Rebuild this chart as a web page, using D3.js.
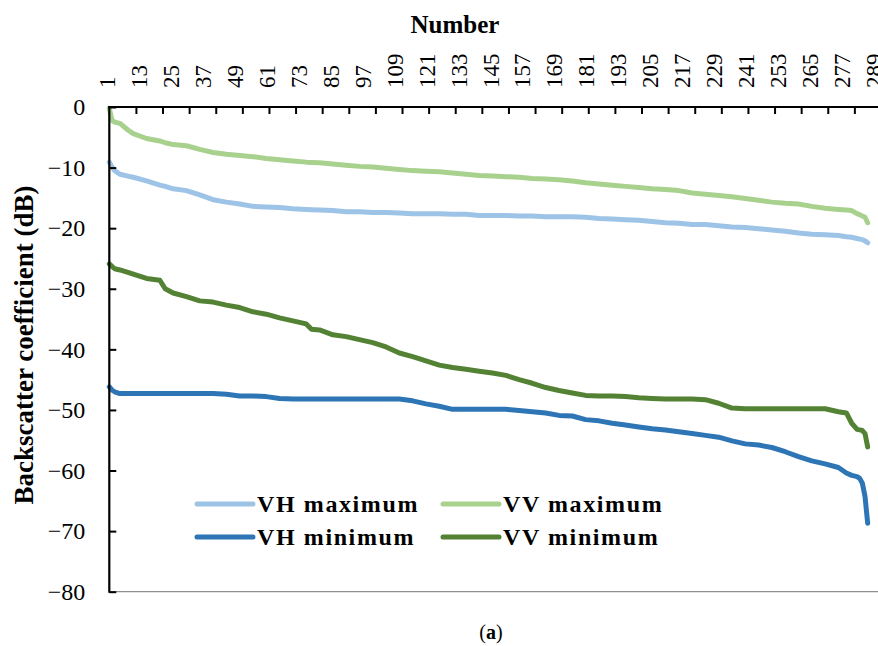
<!DOCTYPE html>
<html>
<head>
<meta charset="utf-8">
<script src="https://cdn.jsdelivr.net/npm/d3@7"></script>
<style>
  body { margin: 0; background: #fff; }
  svg { display: block; font-family: "Liberation Serif", "Times New Roman", serif; }
</style>
</head>
<body>
<div id="chart"></div>
<script>
var numbers = [1, 2, 3, 5, 8, 10, 15, 20, 22, 25, 30, 35, 40, 45, 50, 55, 60, 65, 70, 75, 77,
  80, 85, 90, 95, 100, 105, 110, 115, 120, 125, 130, 135, 140, 145, 150, 155, 160, 165, 170,
  175, 180, 185, 190, 195, 200, 205, 210, 215, 220, 225, 230, 235, 240, 245, 250, 255, 260,
  265, 270, 275, 278, 280, 282, 283, 284, 285, 286];

var vhMax = [-9.1, -9.9, -10.5, -11.1, -11.4, -11.6, -12.2, -12.9, -13.1, -13.5, -13.8, -14.5,
  -15.3, -15.7, -16.0, -16.4, -16.5, -16.6, -16.8, -16.9, -16.95, -17.0, -17.1, -17.3, -17.3,
  -17.4, -17.4, -17.5, -17.6, -17.6, -17.6, -17.7, -17.7, -17.9, -17.9, -17.9, -18.0, -18.0,
  -18.1, -18.1, -18.1, -18.2, -18.4, -18.5, -18.6, -18.7, -18.9, -19.1, -19.2, -19.4, -19.4,
  -19.6, -19.8, -19.9, -20.1, -20.3, -20.5, -20.8, -21.0, -21.1, -21.2, -21.4, -21.5, -21.7,
  -21.8, -21.9, -22.1, -22.4];

var vvMax = [-0.2, -2.2, -2.5, -2.7, -3.8, -4.4, -5.2, -5.6, -5.9, -6.2, -6.4, -7.0, -7.5,
  -7.8, -8.0, -8.2, -8.5, -8.7, -8.9, -9.1, -9.15, -9.2, -9.4, -9.6, -9.8, -9.9, -10.1, -10.3,
  -10.5, -10.6, -10.7, -10.9, -11.1, -11.3, -11.4, -11.5, -11.6, -11.8, -11.9, -12.0, -12.2,
  -12.5, -12.7, -12.9, -13.1, -13.3, -13.5, -13.6, -13.8, -14.2, -14.4, -14.6, -14.8, -15.1,
  -15.4, -15.7, -15.9, -16.0, -16.4, -16.7, -16.9, -17.0, -17.1, -17.6, -17.8, -18.0, -18.2,
  -19.1];

var vhMin = [-46.2, -46.7, -47.0, -47.3, -47.3, -47.3, -47.3, -47.3, -47.3, -47.3, -47.3,
  -47.3, -47.3, -47.4, -47.7, -47.7, -47.8, -48.1, -48.2, -48.2, -48.2, -48.2, -48.2, -48.2,
  -48.2, -48.2, -48.2, -48.2, -48.5, -49.0, -49.4, -49.9, -49.9, -49.9, -49.9, -49.9, -50.1,
  -50.3, -50.5, -50.9, -51.0, -51.6, -51.8, -52.2, -52.5, -52.8, -53.1, -53.3, -53.6, -53.9,
  -54.2, -54.5, -55.1, -55.6, -55.8, -56.2, -56.9, -57.7, -58.4, -58.9, -59.5, -60.4, -60.8,
  -61.0, -61.3, -62.1, -64.3, -68.7];

var vvMin = [-25.9, -26.3, -26.7, -26.9, -27.3, -27.6, -28.3, -28.6, -30.0, -30.7, -31.3,
  -32.0, -32.2, -32.7, -33.1, -33.8, -34.2, -34.8, -35.3, -35.8, -36.7, -36.8, -37.6, -37.9,
  -38.4, -38.9, -39.6, -40.6, -41.2, -41.9, -42.6, -43.0, -43.3, -43.6, -43.9, -44.3, -45.0,
  -45.6, -46.3, -46.8, -47.2, -47.6, -47.7, -47.7, -47.8, -48.0, -48.1, -48.2, -48.2, -48.2,
  -48.3, -48.9, -49.7, -49.8, -49.8, -49.8, -49.8, -49.8, -49.8, -49.8, -50.3, -50.5, -52.2,
  -53.2, -53.3, -53.4, -53.9, -56.1];

var seriesNames = ["VH maximum", "VV maximum", "VH minimum", "VV minimum"];
var seriesColors = ["#9dc3e6", "#a9d18e", "#2e75b6", "#548235"];
var seriesValues = [vhMax, vvMax, vhMin, vvMin];

var lastNumber = 289;
var xLabels = [1, 13, 25, 37, 49, 61, 73, 85, 97, 109, 121, 133, 145, 157, 169, 181, 193,
  205, 217, 229, 241, 253, 265, 277, 289];
var yTicks = [0, -10, -20, -30, -40, -50, -60, -70, -80];

var width = 878, height = 646;
var margin = {top: 107, left: 109.3};
var plotRight = margin.left + 288 * 2.661;
var plotBottom = 591.7;

var svg = d3.select("#chart").append("svg")
  .attr("width", width)
  .attr("height", height);

var x = d3.scalePoint()
  .domain(d3.range(1, lastNumber + 1))
  .range([margin.left, plotRight]);

var y = d3.scaleLinear()
  .domain([-80, 0])
  .range([plotBottom, margin.top]);

// bottom gray border
svg.append("line")
  .attr("x1", margin.left).attr("x2", width)
  .attr("y1", plotBottom).attr("y2", plotBottom)
  .attr("stroke", "#8f8f8f")
  .attr("stroke-width", 1.2);

// lines
var line = d3.line()
  .x(function(d) { return x(d[0]); })
  .y(function(d) { return y(d[1]); });

seriesValues.forEach(function(vals, i) {
  var pts = numbers.map(function(n, j) { return [n, vals[j]]; });
  svg.append("path")
    .datum(pts)
    .attr("fill", "none")
    .attr("stroke", seriesColors[i])
    .attr("stroke-width", 5)
    .attr("stroke-linejoin", "round")
    .attr("stroke-linecap", "round")
    .attr("d", line);
});

// x axis: ticks every 10, labels every 12
var xTickAxis = d3.axisTop(x)
  .tickValues(d3.range(11, lastNumber + 1, 10))
  .tickSize(-7)
  .tickFormat("");

svg.append("g")
  .attr("transform", "translate(0," + margin.top + ")")
  .call(xTickAxis)
  .call(function(g) {
    g.select(".domain").remove();
    g.selectAll(".tick line").attr("stroke", "#000").attr("stroke-width", 2);
  });

svg.append("line")
  .attr("x1", margin.left - 1).attr("x2", width)
  .attr("y1", margin.top).attr("y2", margin.top)
  .attr("stroke", "#000")
  .attr("stroke-width", 2.2);

var xLabelGroup = svg.append("g");
xLabelGroup.selectAll("text")
  .data(xLabels)
  .join("text")
  .attr("transform", function(d) { return "translate(" + (x(d) - 2) + ",88) rotate(-90)"; })
  .attr("dy", "0.35em")
  .attr("text-anchor", "start")
  .attr("font-size", 23)
  .attr("fill", "#000")
  .text(function(d) { return d; });

// y axis
var yAxis = d3.axisLeft(y)
  .tickValues(yTicks)
  .tickSize(-7)
  .tickPadding(24)
  .tickFormat(function(d) { return d < 0 ? "\u2212" + Math.abs(d) : d; });

svg.append("g")
  .attr("transform", "translate(" + margin.left + ",0)")
  .call(yAxis)
  .call(function(g) {
    g.select(".domain").remove();
    g.selectAll(".tick line").attr("stroke", "#000").attr("stroke-width", 2);
    g.selectAll(".tick text")
      .attr("font-size", 24)
      .attr("font-family", "Liberation Serif, Times New Roman, serif")
      .attr("fill", "#000");
  });

svg.append("line")
  .attr("x1", margin.left).attr("x2", margin.left)
  .attr("y1", margin.top - 1).attr("y2", plotBottom + 1)
  .attr("stroke", "#000")
  .attr("stroke-width", 2.2);

// titles
svg.append("text")
  .attr("x", 455)
  .attr("y", 33)
  .attr("text-anchor", "middle")
  .attr("font-size", 25)
  .attr("font-weight", "bold")
  .text("Number");

svg.append("text")
  .attr("transform", "translate(33,345) rotate(-90)")
  .attr("text-anchor", "middle")
  .attr("font-size", 27)
  .attr("font-weight", "bold")
  .text("Backscatter coefficient (dB)");

svg.append("text")
  .attr("x", 491)
  .attr("y", 639)
  .attr("text-anchor", "middle")
  .attr("font-size", 20)
  .html("(<tspan font-weight='bold'>a</tspan>)");

// legend
var legendPos = [[197, 504], [443, 504], [197, 537], [443, 537]];

var legend = svg.append("g");
legend.selectAll("g")
  .data(seriesNames)
  .join("g")
  .each(function(d, i) {
    var g = d3.select(this);
    var p = legendPos[i];
    g.append("line")
      .attr("x1", p[0]).attr("x2", p[0] + 56)
      .attr("y1", p[1]).attr("y2", p[1])
      .attr("stroke", seriesColors[i])
      .attr("stroke-width", 5)
      .attr("stroke-linecap", "round");
    g.append("text")
      .attr("x", p[0] + 60)
      .attr("y", p[1] + 8)
      .attr("font-size", 24)
      .attr("font-weight", "bold")
      .attr("letter-spacing", 1.6)
      .text(d);
  });
</script>
</body>
</html>
